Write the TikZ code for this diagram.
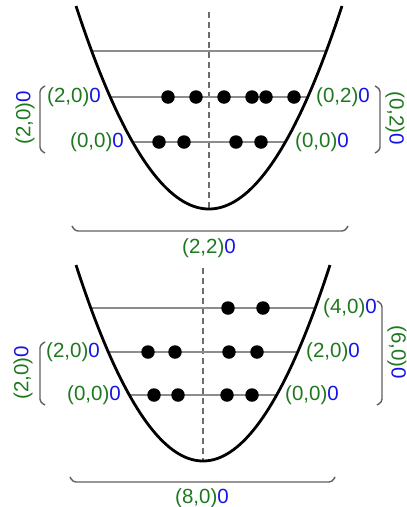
\documentclass[tikz,border=0pt]{standalone}
\usepackage{fontspec}
\setmainfont{Liberation Sans}
\usepackage{xcolor}
\usetikzlibrary{positioning}

\definecolor{qgreen}{RGB}{30,120,30}
\definecolor{qblue}{RGB}{20,20,230}
\newcommand{\qlab}[2]{{\color{qgreen}#1}{\color{qblue}#2}}

\begin{document}
\begin{tikzpicture}[
  x=1pt, y=-1pt,
  well/.style={line width=2.8pt, black},
  axis/.style={dash pattern=on 6pt off 4pt, gray!85!black, line width=1.2pt},
  level/.style={gray!90, line width=1.3pt},
  brace/.style={gray!75!black, line width=1.4pt, rounded corners=3pt},
  lab/.style={inner sep=0pt, font=\fontsize{20.5}{24}\selectfont},
  dot/.style={circle, fill=black, inner sep=0pt, minimum size=13.5pt}
]
\useasboundingbox (0,0) rectangle (407,507);

% upper well
\draw[axis] (209,12) -- (209,209);
\draw[level] (93,51) -- (326,51);
\draw[level] (110,97) -- (308,97);
\draw[level] (133,142) -- (285,142);
\draw[well] plot[domain=-1:1, samples=80] ({209+133*\x},{209-203*\x*\x});

\foreach \px in {168,196,224,252,266,294} \node[dot] at (\px,97) {};
\foreach \px in {159,184,236,261} \node[dot] at (\px,142) {};

% level labels (upper)
\node[lab, anchor=east] (ua) at (101,97) {\qlab{(2,0)}{0}};
\node[lab, anchor=east] (ub) at (124,142) {\qlab{(0,0)}{0}};
\node[lab, anchor=west] (uc) at (316,97) {\qlab{(0,2)}{0}};
\node[lab, anchor=west] (ud) at (295,142) {\qlab{(0,0)}{0}};

% brackets (upper)
\draw[brace] (45,86) -- (40,89) -- (40,150) -- (45,153);
\node[lab, rotate=90] (ue) at (25,118) {\qlab{(2,0)}{0}};
\draw[brace] (375,86) -- (380,89) -- (380,150) -- (375,153);
\node[lab, rotate=-90] (uf) at (395,118) {\qlab{(0,2)}{0}};
\draw[brace] (72,226) -- (75,231) -- (345,231) -- (348,226);
\node[lab] (ug) at (209,248) {\qlab{(2,2)}{0}};

% lower well
\draw[axis] (203,268) -- (203,461);
\draw[level] (92,308) -- (314,308);
\draw[level] (108,352) -- (298,352);
\draw[level] (130,395) -- (276,395);
\draw[well] plot[domain=-1:1, samples=80] ({203+127*\x},{461-196*\x*\x});

\foreach \px in {228,263} \node[dot] at (\px,308) {};
\foreach \px in {148,175,229,257} \node[dot] at (\px,352) {};
\foreach \px in {154,178,227,252} \node[dot] at (\px,395) {};

% level labels (lower)
\node[lab, anchor=east] (la) at (100,352) {\qlab{(2,0)}{0}};
\node[lab, anchor=east] (lb) at (121,395) {\qlab{(0,0)}{0}};
\node[lab, anchor=west] (lc) at (323,308) {\qlab{(4,0)}{0}};
\node[lab, anchor=west] (ld) at (306,352) {\qlab{(2,0)}{0}};
\node[lab, anchor=west] (le) at (285,395) {\qlab{(0,0)}{0}};

% brackets (lower)
\draw[brace] (45,342) -- (40,345) -- (40,402) -- (45,405);
\node[lab, rotate=90] (lf) at (23,373) {\qlab{(2,0)}{0}};
\draw[brace] (377,301) -- (382,304) -- (382,402) -- (377,405);
\node[lab, rotate=-90] (lg) at (397,352) {\qlab{(6,0)}{0}};
\draw[brace] (70,477) -- (73,482) -- (332,482) -- (335,477);
\node[lab] (lh) at (202,498) {\qlab{(8,0)}{0}};
\end{tikzpicture}
\end{document}
